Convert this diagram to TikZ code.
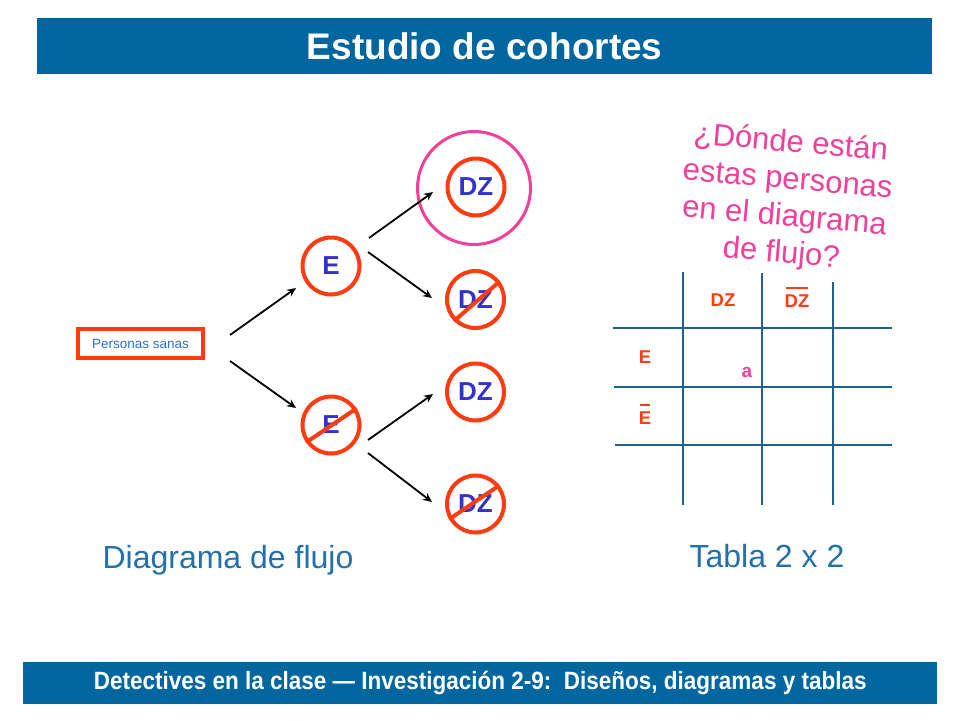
\documentclass[tikz,border=0pt]{standalone}
\usepackage{fontspec}
\setmainfont{Liberation Sans}
\newfontfamily\narrowfont[FakeStretch=0.9]{Liberation Sans}
\usetikzlibrary{arrows.meta}
\definecolor{barblue}{HTML}{0066A0}
\definecolor{oran}{HTML}{FF3B10}
\definecolor{dzblue}{HTML}{3333CC}
\definecolor{pinkc}{HTML}{F0409A}
\definecolor{boxtext}{HTML}{2F6FD0}
\definecolor{capblue}{HTML}{2470A8}
\definecolor{tline}{HTML}{1F5F8F}
\newcommand\ovlbar[1]{\leavevmode\vbox{\hrule height 1.8pt\kern 5pt\hbox{\kern-1pt#1\kern-1pt}}}
\tikzset{
  cnode/.style={circle, draw=oran, line width=4pt, minimum size=57pt, inner sep=0pt,
    text=dzblue, font=\fontsize{26}{26}\selectfont\bfseries},
  strike/.style={draw=oran, line width=4pt},
  arr/.style={line width=1.8pt, -{Stealth[length=9pt,width=8pt]}},
  tabline/.style={draw=tline, line width=1.3pt},
  tlabel/.style={text=oran, font=\fontsize{18.5}{18.5}\selectfont\bfseries, inner sep=0pt},
  caption/.style={text=capblue, font=\fontsize{32}{32}\selectfont}
}
\begin{document}
\begin{tikzpicture}[x=1pt,y=-1pt]
\useasboundingbox (0,0) rectangle (960,720);
\fill[white] (0,0) rectangle (960,720);
% bars
\node[fill=barblue, minimum width=895pt, minimum height=56pt, inner sep=0pt, anchor=north west,
  text=white, font=\fontsize{37}{37}\selectfont\bfseries] (title) at (37,18) {Estudio de cohortes};
\node[fill=barblue, minimum width=914pt, minimum height=42pt, inner sep=0pt, anchor=north west,
  text=white, font=\narrowfont\fontsize{25}{25}\selectfont\bfseries] (foot) at (23,662)
  {Detectives en la clase — Investigación 2-9:\ \ Diseños, diagramas y tablas};
% flow diagram
\node[draw=oran, line width=3.5pt, minimum width=125pt, minimum height=29pt, inner sep=0pt,
  text=boxtext, font=\fontsize{13.5}{13.5}\selectfont] (box) at (140.5,343.5) {Personas sanas};
\node[cnode] (E1) at (331,266) {E};
\node[cnode] (E2) at (331,425) {E};
\node[cnode] (D1) at (476,187) {DZ};
\node[cnode] (D2) at (475.5,299.5) {DZ};
\node[cnode] (D3) at (475.5,392) {DZ};
\node[cnode] (D4) at (475.5,504) {DZ};
\node[circle, draw=pinkc, line width=3pt, minimum size=113pt, inner sep=0pt] (ring) at (474,188) {};
\draw[strike] (E2.215) -- (E2.33);
\draw[strike] (D2.225) -- (D2.37);
\draw[strike] (D4.210) -- (D4.38);
% arrows
\coordinate (a1s) at (230,335); \coordinate (a1e) at (296,288);
\coordinate (a2s) at (230,361); \coordinate (a2e) at (296,408);
\coordinate (a3s) at (369,238); \coordinate (a3e) at (433,192);
\coordinate (a4s) at (368,252); \coordinate (a4e) at (432,298);
\coordinate (a5s) at (368,440); \coordinate (a5e) at (433,394);
\coordinate (a6s) at (368,453); \coordinate (a6e) at (432,502);
\draw[arr] (a1s) -- (a1e);
\draw[arr] (a2s) -- (a2e);
\draw[arr] (a3s) -- (a3e);
\draw[arr] (a4s) -- (a4e);
\draw[arr] (a5s) -- (a5e);
\draw[arr] (a6s) -- (a6e);
% captions
\node[caption] (cap1) at (228,560) {Diagrama de flujo};
\node[caption] (cap2) at (767,556) {Tabla 2 x 2};
% question
\node[text=pinkc, rotate=-5, align=center, font=\fontsize{31}{37}\selectfont] (q) at (786,199)
  {¿Dónde están\\estas personas\\en el diagrama\\de flujo?};
% table
\draw[tabline] (683,272) -- (683,505);
\draw[tabline] (762,273) -- (762,505);
\draw[tabline] (833,282) -- (833,505);
\draw[tabline] (613,328) -- (892,328);
\draw[tabline] (614,387) -- (892,387);
\draw[tabline] (615,445) -- (892,445);
\node[tlabel] (tdz) at (723,300) {DZ};
\node[tlabel, anchor=base] (tdzb) at (797,307) {\ovlbar{DZ}};
\node[tlabel] (te) at (645,357) {E};
\node[tlabel, anchor=base] (teb) at (645,424) {\ovlbar{E}};
\node[text=pinkc, font=\fontsize{19}{19}\selectfont\bfseries, inner sep=0pt] (ta) at (747,372) {a};
\end{tikzpicture}
\end{document}
